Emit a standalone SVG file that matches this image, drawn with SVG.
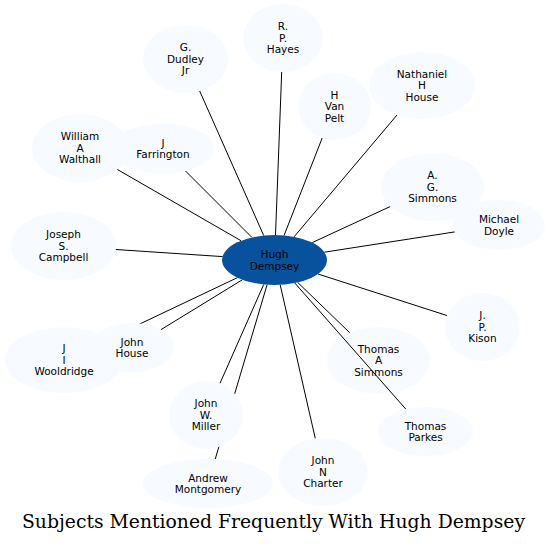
<svg xmlns="http://www.w3.org/2000/svg" width="550" height="544" viewBox="0 0 550 544">
<style>
.n{fill:#f7fbff;stroke:none}
.c{fill:#08519c;stroke:none}
.t{font-family:"DejaVu Sans",sans-serif;font-size:10.5px;fill:#000;text-anchor:middle}
.e line{stroke:#000;stroke-width:1}
.title{font-family:"DejaVu Serif",serif;font-size:18px;fill:#000;text-anchor:middle}
</style>
<rect width="550" height="544" fill="#fff"/>
<g id="tasimmons"><ellipse class="n" cx="378.5" cy="360.5" rx="51.5" ry="33.5"/><text class="t"><tspan x="378.5" y="352.8">Thomas</tspan><tspan x="378.5" y="364.3">A</tspan><tspan x="378.5" y="375.8">Simmons</tspan></text></g>
<g id="edges" class="e">
<line x1="263.7" y1="235.5" x2="199.7" y2="91"/>
<line x1="275.5" y1="235" x2="281.7" y2="72"/>
<line x1="284.1" y1="235.4" x2="322.2" y2="138"/>
<line x1="294.1" y1="236.8" x2="397" y2="115"/>
<line x1="312.2" y1="242.6" x2="390.3" y2="206.5"/>
<line x1="324.4" y1="252.2" x2="454.8" y2="231.9"/>
<line x1="318" y1="274" x2="447.2" y2="315.6"/>
<line x1="297.7" y1="282.4" x2="349.7" y2="332.7"/>
<line x1="294.8" y1="283" x2="405.9" y2="409.2"/>
<line x1="280.2" y1="284.9" x2="315.3" y2="438.5"/>
<line x1="263.7" y1="284.5" x2="219.9" y2="383.5"/>
<line x1="267.1" y1="284.7" x2="215.2" y2="459.2"/>
<line x1="237.3" y1="277.7" x2="109" y2="338.6"/>
<line x1="242.3" y1="279.8" x2="160.9" y2="329.7"/>
<line x1="222.5" y1="256.6" x2="115.7" y2="249.5"/>
<line x1="241" y1="240.7" x2="117.2" y2="169.4"/>
<line x1="251.9" y1="237.4" x2="185.4" y2="170.9"/>
</g>
<g id="hayes"><ellipse class="n" cx="283" cy="38" rx="40" ry="34"/><text class="t"><tspan x="283" y="30.3">R.</tspan><tspan x="283" y="41.8">P.</tspan><tspan x="283" y="53.3">Hayes</tspan></text></g>
<g id="dudley"><ellipse class="n" cx="185.5" cy="59" rx="42.5" ry="34"/><text class="t"><tspan x="185.5" y="51.3">G.</tspan><tspan x="185.5" y="62.8">Dudley</tspan><tspan x="185.5" y="74.3">Jr</tspan></text></g>
<g id="vanpelt"><ellipse class="n" cx="334.5" cy="106.5" rx="36.5" ry="33.5"/><text class="t"><tspan x="334.5" y="98.8">H</tspan><tspan x="334.5" y="110.3">Van</tspan><tspan x="334.5" y="121.8">Pelt</tspan></text></g>
<g id="nathaniel"><ellipse class="n" cx="422" cy="85.5" rx="53" ry="33.5"/><text class="t"><tspan x="422" y="77.8">Nathaniel</tspan><tspan x="422" y="89.3">H</tspan><tspan x="422" y="100.8">House</tspan></text></g>
<g id="walthall"><ellipse class="n" cx="80" cy="148" rx="48" ry="34"/><text class="t"><tspan x="80" y="140.3">William</tspan><tspan x="80" y="151.8">A</tspan><tspan x="80" y="163.3">Walthall</tspan></text></g>
<g id="farrington"><ellipse class="n" cx="163" cy="148.5" rx="51" ry="25"/><text class="t"><tspan x="163" y="146.5">J</tspan><tspan x="163" y="158">Farrington</tspan></text></g>
<g id="agsimmons"><ellipse class="n" cx="432.5" cy="187" rx="51.5" ry="34"/><text class="t"><tspan x="432.5" y="179.3">A.</tspan><tspan x="432.5" y="190.8">G.</tspan><tspan x="432.5" y="202.3">Simmons</tspan></text></g>
<g id="doyle"><ellipse class="n" cx="499" cy="225" rx="46" ry="25"/><text class="t"><tspan x="499" y="223">Michael</tspan><tspan x="499" y="234.5">Doyle</tspan></text></g>
<g id="campbell"><ellipse class="n" cx="63.5" cy="246" rx="52.5" ry="34"/><text class="t"><tspan x="63.5" y="238.3">Joseph</tspan><tspan x="63.5" y="249.8">S.</tspan><tspan x="63.5" y="261.3">Campbell</tspan></text></g>
<g id="dempsey"><ellipse class="c" cx="274.5" cy="260" rx="52.5" ry="25"/><text class="t"><tspan x="274.5" y="258">Hugh</tspan><tspan x="274.5" y="269.5">Dempsey</tspan></text></g>
<g id="kison"><ellipse class="n" cx="482.5" cy="327" rx="37.5" ry="34"/><text class="t"><tspan x="482.5" y="319.3">J.</tspan><tspan x="482.5" y="330.8">P.</tspan><tspan x="482.5" y="342.3">Kison</tspan></text></g>
<g id="wooldridge"><ellipse class="n" cx="64" cy="360" rx="59" ry="33"/><text class="t"><tspan x="64" y="352.3">J</tspan><tspan x="64" y="363.8">I</tspan><tspan x="64" y="375.3">Wooldridge</tspan></text></g>
<g id="johnhouse"><ellipse class="n" cx="132" cy="347.5" rx="42" ry="24.5"/><text class="t"><tspan x="132" y="345.5">John</tspan><tspan x="132" y="357">House</tspan></text></g>
<g id="miller"><ellipse class="n" cx="206" cy="415" rx="37" ry="34"/><text class="t"><tspan x="206" y="407.3">John</tspan><tspan x="206" y="418.8">W.</tspan><tspan x="206" y="430.3">Miller</tspan></text></g>
<g id="parkes"><ellipse class="n" cx="425.5" cy="431.5" rx="47.5" ry="24.5"/><text class="t"><tspan x="425.5" y="429.5">Thomas</tspan><tspan x="425.5" y="441">Parkes</tspan></text></g>
<g id="charter"><ellipse class="n" cx="323" cy="472" rx="45" ry="34"/><text class="t"><tspan x="323" y="464.3">John</tspan><tspan x="323" y="475.8">N</tspan><tspan x="323" y="487.3">Charter</tspan></text></g>
<g id="andrew"><ellipse class="n" cx="208" cy="483.5" rx="65" ry="24.5"/><text class="t"><tspan x="208" y="481.5">Andrew</tspan><tspan x="208" y="493">Montgomery</tspan></text></g>
<text class="title" x="273.5" y="528" textLength="503" lengthAdjust="spacingAndGlyphs">Subjects Mentioned Frequently With Hugh Dempsey</text>
</svg>
